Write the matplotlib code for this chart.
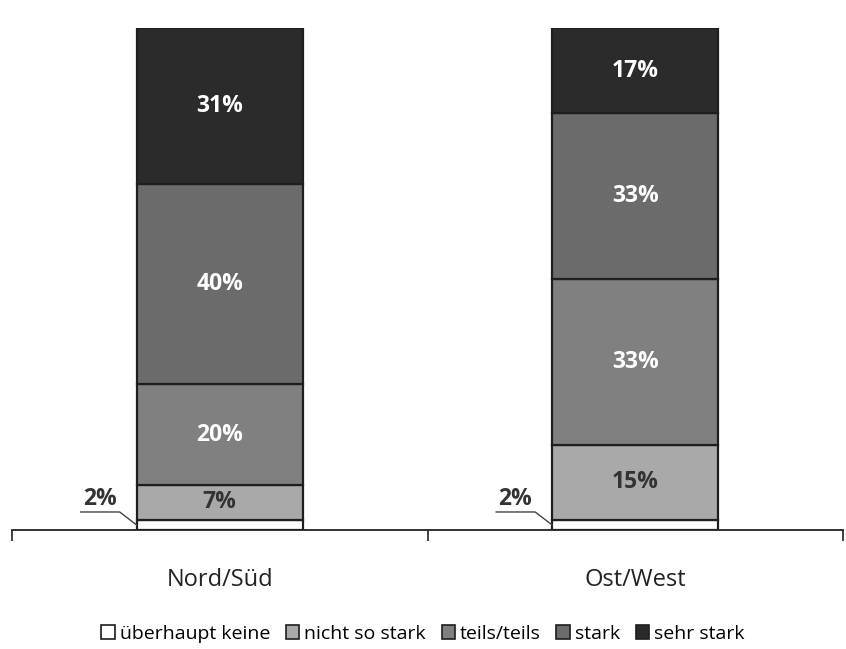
import matplotlib
matplotlib.use("Agg")
import matplotlib.pyplot as plt
from matplotlib.lines import Line2D
from matplotlib.patches import Patch
import numpy as np

plt.rcParams['font.family'] = ['Open Sans', 'DejaVu Sans']

categories = ["Nord/Süd", "Ost/West"]
series_names = ["überhaupt keine", "nicht so stark", "teils/teils", "stark", "sehr stark"]
values = {
    "überhaupt keine": [2, 2],
    "nicht so stark": [7, 15],
    "teils/teils": [20, 33],
    "stark": [40, 33],
    "sehr stark": [31, 17],
}
colors = ["#ffffff", "#a9a9a9", "#808080", "#6b6b6b", "#2b2b2b"]
text_colors = [None, "#333333", "white", "white", "white"]

W, H = 846, 649
fig = plt.figure(figsize=(W / 100, H / 100), dpi=100)
ax = fig.add_axes([12 / W, (H - 530) / H, (843 - 12) / W, (530 - 28) / H])

x = np.arange(len(categories))
bar_w = 0.4
bottom = np.zeros(len(categories))
for name, col, tcol in zip(series_names, colors, text_colors):
    vals = np.array(values[name], dtype=float)
    ax.bar(x, vals, bar_w, bottom=bottom, color=col, edgecolor="#1e1e1e",
           linewidth=1.6, zorder=2)
    for xi, v, b in zip(x, vals, bottom):
        if tcol is not None:
            ax.text(xi, b + v / 2, f"{v:.0f}%", ha="center", va="center",
                    color=tcol, fontsize=16.5, fontweight="bold", zorder=3)
    bottom += vals

ax.set_xlim(-0.5, len(categories) - 0.5)
ax.set_ylim(0, 100)
ax.set_yticks([])
for s in ("left", "right", "top"):
    ax.spines[s].set_visible(False)
ax.spines["bottom"].set_color("#222222")
ax.spines["bottom"].set_linewidth(1.3)

# category labels between boundary ticks
ax.set_xticks(np.arange(-0.5, len(categories)), minor=False)
ax.set_xticklabels([])
ax.tick_params(axis="x", which="major", direction="out", length=8, width=1.2,
               color="#222222")
ax.set_xticks(x, minor=True)
ax.set_xticklabels(categories, minor=True, fontsize=17, color="#222222")
ax.tick_params(axis="x", which="minor", length=0, pad=27)

# outside labels for the smallest segment with leader lines
fig.canvas.draw()
dpi = fig.dpi
small = values["überhaupt keine"]
for xi, v in zip(x, small):
    ax_px = ax.transData.transform((xi - bar_w / 2, v / 2))
    ex, ey = ax_px[0], ax_px[1]
    pts = np.array([
        [ex, ey],
        [ex - 17, ey + 13],
        [ex - 56, ey + 13],
    ])
    fig.add_artist(Line2D(pts[:, 0] / dpi, pts[:, 1] / dpi,
                          transform=fig.dpi_scale_trans, color="#444444",
                          linewidth=1.0))
    fig.text((ex - 37) / W, (ey + 14) / H, f"{v}%", ha="center", va="bottom",
             fontsize=16.5, fontweight="bold", color="#333333")

handles = [Patch(facecolor=c, edgecolor="#1e1e1e", linewidth=1.2) for c in colors]
fig.legend(handles, series_names, loc="center", bbox_to_anchor=(0.5, (H - 634) / H),
           ncol=5, frameon=False, fontsize=14, handlelength=0.7, handleheight=0.7,
           handletextpad=0.25, columnspacing=0.8)

fig.savefig("out.png", dpi=100)
